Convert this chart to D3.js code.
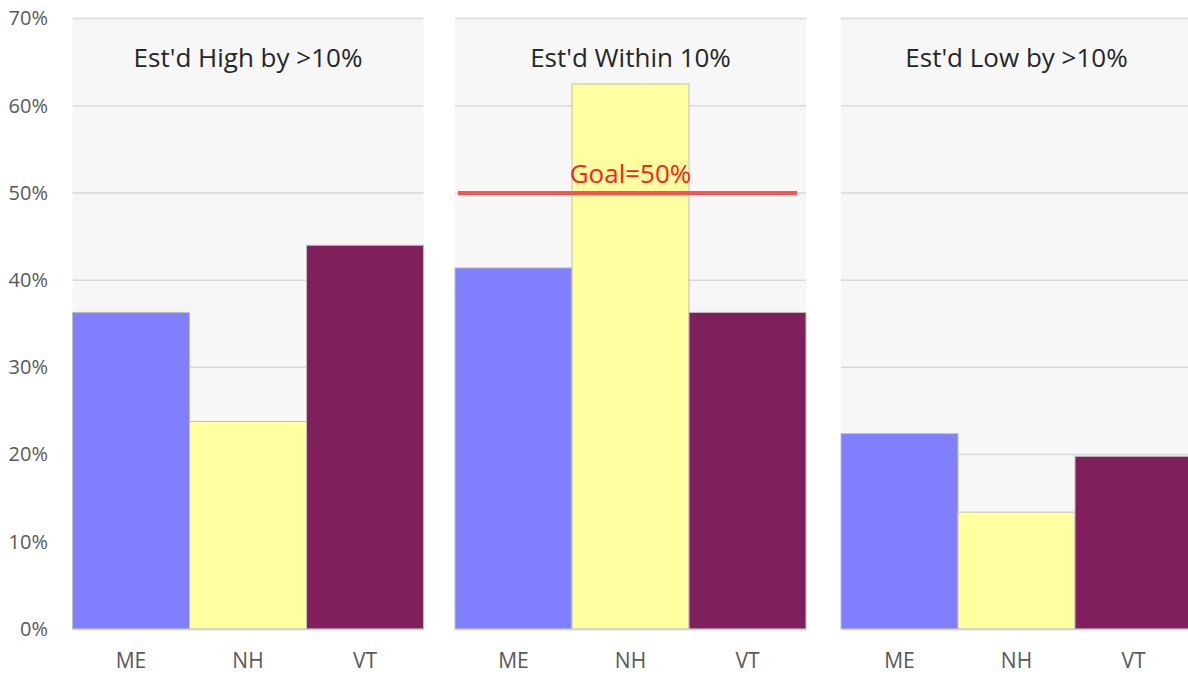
<!DOCTYPE html>
<html>
<head>
<meta charset="utf-8">
<script src="https://cdn.jsdelivr.net/npm/d3@7"></script>
<style>
  html, body { margin: 0; padding: 0; background: #ffffff; }
  svg { display: block; }
  text { font-family: "Open Sans", "Noto Sans", "DejaVu Sans", sans-serif; }
</style>
</head>
<body>
<svg id="chart" width="1188" height="675"></svg>
<script>
// Share of estimates by accuracy band, per state
const panels = ["Est'd High by >10%", "Est'd Within 10%", "Est'd Low by >10%"];
const states = ["ME", "NH", "VT"];
const estHigh = [0.363, 0.238, 0.440];
const estWithin = [0.414, 0.625, 0.363];
const estLow = [0.224, 0.134, 0.198];
const panelValues = [estHigh, estWithin, estLow];
const yTicks = [0, 0.1, 0.2, 0.3, 0.4, 0.5, 0.6, 0.7];
const goal = 0.5;
const goalLabel = "Goal=50%";
const stateColors = ["#8080ff", "#ffff9f", "#7f1f5c"];

const svg = d3.select("#chart");

const y = d3.scaleLinear().domain([0, 0.7]).range([629, 18.5]);

// horizontal placement of the three small multiples
const panelX = d3.scaleOrdinal()
  .domain(panels)
  .range([72.5, 455, 841]);
const panelW = 351;

// Y axis labels on the left
const yAxis = d3.axisLeft(y)
  .tickValues(yTicks)
  .tickFormat(d3.format(".0%"))
  .tickSize(0)
  .tickPadding(0);
const yAxisG = svg.append("g")
  .attr("transform", "translate(48,0)")
  .call(yAxis);
yAxisG.select(".domain").remove();
yAxisG.selectAll("text")
  .attr("fill", "#595959")
  .style("font-size", "20px")
  .attr("dy", "0.32em");

panels.forEach((name, i) => {
  const x0 = panelX(name);
  const g = svg.append("g").attr("transform", `translate(${x0},0)`);
  const x = d3.scaleBand().domain(states).range([0, panelW]).padding(0);

  // plot area background
  g.append("rect")
    .attr("x", 0).attr("y", y(0.7))
    .attr("width", panelW).attr("height", y(0) - y(0.7))
    .attr("fill", "#f7f7f7");

  // gridlines
  g.selectAll("line.grid")
    .data(yTicks)
    .join("line")
    .attr("class", "grid")
    .attr("x1", 0).attr("x2", panelW)
    .attr("y1", d => y(d)).attr("y2", d => y(d))
    .attr("stroke", "#d9d9d9")
    .attr("stroke-width", 1.5);

  // bars
  g.selectAll("rect.bar")
    .data(panelValues[i].map((v, j) => ({ state: states[j], v, c: stateColors[j] })))
    .join("rect")
    .attr("class", "bar")
    .attr("x", d => x(d.state))
    .attr("y", d => y(d.v))
    .attr("width", x.bandwidth())
    .attr("height", d => y(0) - y(d.v))
    .attr("fill", d => d.c)
    .attr("stroke", "#bfbfbf")
    .attr("stroke-width", 1);

  // category axis
  const xAxis = d3.axisBottom(x).tickSize(0).tickPadding(0);
  const xg = g.append("g")
    .attr("transform", `translate(0,${y(0)})`)
    .call(xAxis);
  xg.select(".domain").attr("stroke", "#d0d0d0").attr("stroke-width", 1.5);
  xg.selectAll("text")
    .attr("fill", "#595959")
    .style("font-size", "21px")
    .attr("dy", "0")
    .attr("y", 39);

  // panel title
  g.append("text")
    .attr("x", panelW / 2)
    .attr("y", 67)
    .attr("text-anchor", "middle")
    .attr("fill", "#262626")
    .style("font-size", "26px")
    .text(name);

  // goal line on the "within" panel
  if (i === 1) {
    g.append("line")
      .attr("x1", 3).attr("x2", panelW - 9)
      .attr("y1", y(goal)).attr("y2", y(goal))
      .attr("stroke", "#ff4f4f")
      .attr("stroke-width", 4);
    g.append("text")
      .attr("x", panelW / 2)
      .attr("y", y(goal) - 10)
      .attr("text-anchor", "middle")
      .attr("fill", "#ff2020")
      .style("font-size", "26px")
      .text(goalLabel);
  }
});
</script>
</body>
</html>
